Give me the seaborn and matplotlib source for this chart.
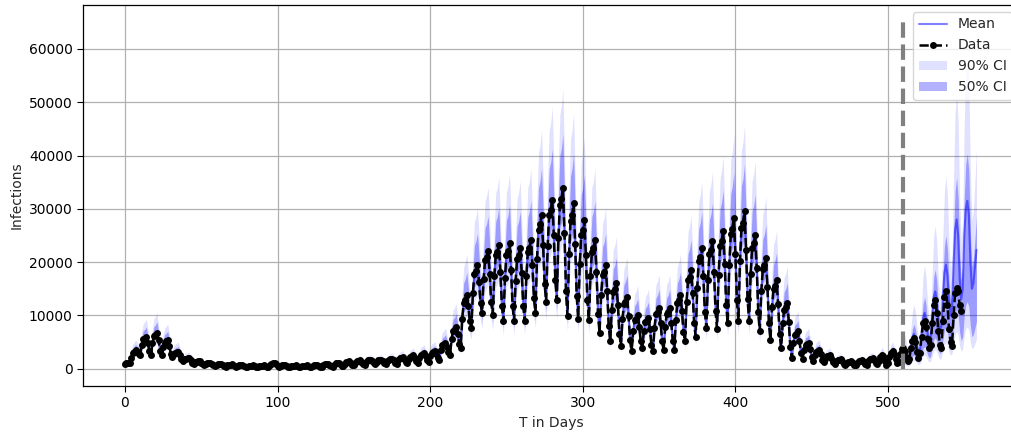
import numpy as np
import pandas as pd
import matplotlib
matplotlib.use("Agg")
import matplotlib.pyplot as plt
import seaborn as sns

# daily reported infections, one row per week (day 0 .. 548)
cases = [
    800, 1000, 1100, 1000, 2000, 2900, 3200,
    3500, 3200, 2800, 2600, 4470, 5490, 5660,
    6000, 4800, 3300, 2600, 4800, 6100, 6300,
    6750, 5300, 3400, 2600, 4100, 4900, 5100,
    5400, 4300, 2800, 2200, 2750, 3000, 3100,
    3200, 2600, 1800, 1500, 1800, 1900, 1950,
    2000, 1600, 1100, 900, 1200, 1300, 1350,
    1400, 1150, 850, 700, 900, 1000, 1050,
    1100, 900, 600, 500, 700, 850, 870,
    900, 730, 500, 400, 620, 740, 760,
    800, 640, 440, 350, 530, 640, 650,
    700, 560, 380, 300, 460, 560, 570,
    600, 480, 320, 250, 440, 550, 570,
    600, 480, 320, 250, 720, 970, 1020,
    1100, 850, 540, 400, 560, 660, 670,
    700, 560, 380, 300, 460, 560, 570,
    600, 480, 320, 250, 440, 550, 570,
    600, 480, 320, 250, 500, 600, 650,
    700, 560, 380, 300, 630, 810, 840,
    900, 710, 460, 350, 760, 990, 1030,
    1100, 870, 580, 450, 970, 1260, 1300,
    1400, 1120, 760, 600, 1150, 1450, 1500,
    1600, 1290, 880, 700, 1250, 1550, 1600,
    1700, 1390, 980, 800, 1300, 1570, 1610,
    1700, 1390, 980, 800, 1400, 1700, 1800,
    1900, 1550, 1100, 900, 1620, 2000, 2070,
    2200, 1780, 1240, 1000, 1830, 2280, 2350,
    2500, 2010, 1380, 1100, 2090, 2630, 2720,
    2900, 2340, 1620, 1300, 2420, 3000, 3100,
    3300, 2740, 2020, 1700, 3460, 4420, 4580,
    4900, 4100, 3060, 2600, 5520, 7100, 7380,
    7900, 6500, 4700, 3900, 9400, 12400, 12900,
    13900, 11700, 8900, 7700, 14200, 17800, 18400,
    19500, 16350, 12300, 10500, 16800, 20300, 20900,
    22000, 17800, 12500, 10100, 17300, 21300, 21900,
    23250, 18200, 11800, 8900, 17000, 21400, 22100,
    23600, 18500, 11800, 8900, 16500, 20600, 21300,
    22700, 17900, 11700, 8900, 17300, 21900, 22700,
    24200, 19400, 13200, 10500, 20600, 26100, 27100,
    28900, 23200, 15900, 12600, 23100, 28800, 29800,
    31700, 25100, 16700, 12900, 24450, 30750, 31800,
    33900, 25500, 14600, 9800, 21460, 27800, 28900,
    31000, 23400, 13700, 9400, 19600, 25100, 26050,
    27900, 21400, 12900, 9200, 17450, 21950, 22700,
    24200, 18100, 10200, 6750, 13760, 17600, 18200,
    19500, 14500, 8000, 5100, 11100, 14400, 14900,
    16000, 11900, 6600, 4200, 9300, 12100, 12600,
    13500, 9900, 5300, 3250, 7000, 9050, 9400,
    10100, 7900, 5100, 3900, 7000, 8700, 9000,
    9600, 7400, 4500, 3250, 7700, 10200, 10600,
    11400, 8650, 5100, 3550, 7900, 10200, 10600,
    11400, 8650, 5100, 3550, 9200, 12350, 12900,
    13900, 10800, 6900, 5100, 12500, 16600, 17250,
    18600, 14200, 8500, 6000, 15200, 20200, 21000,
    22700, 17400, 10700, 7650, 16600, 21500, 22300,
    23900, 18200, 10800, 7500, 17600, 23100, 24000,
    25800, 19700, 12000, 8500, 19400, 25200, 26300,
    28300, 21500, 12800, 8900, 20200, 26400, 27400,
    29500, 22300, 13000, 8900, 17800, 22700, 23500,
    25100, 18800, 10600, 7000, 14600, 18700, 19400,
    20800, 15400, 8500, 5400, 11600, 15000, 15600,
    16700, 12200, 6500, 3900, 8600, 11100, 11500,
    12400, 8800, 4100, 2060, 4800, 6300, 6500,
    7000, 5200, 2900, 1900, 3550, 4450, 4600,
    4900, 3700, 2200, 1500, 2600, 3200, 3300,
    3500, 2700, 1650, 1200, 1900, 2300, 2370,
    2500, 1950, 1200, 900, 1400, 1670, 1710,
    1800, 1420, 920, 700, 1090, 1300, 1330,
    1400, 1120, 760, 600, 1150, 1450, 1500,
    1600, 1290, 880, 700, 1420, 1800, 1870,
    2000, 1600, 1000, 800, 1500, 2100, 2600,
    2300, 1500, 750, 1000, 2200, 2900, 3250,
    2800, 1800, 1000, 1300, 2800, 3600, 3900,
    3400, 2200, 1370, 1800, 3800, 5200, 5800,
    5000, 3200, 2000, 3000, 6000, 8500, 8900,
    7800, 5500, 3900, 4500, 8500, 12000, 12900,
    10500, 7000, 4500, 3900, 9000, 13500, 14500,
    12000, 7500, 5000, 4300, 10000, 14200, 15150,
    14500, 12000, 10750,
]

# model mean after the cut-off (day 511 .. 558)
forecast_mean = [
    3400, 2600, 2000, 2400, 4000, 5800, 6500,
    5800, 4200, 3000, 3600, 6500, 9500, 10500,
    9200, 6500, 5000, 5800, 9800, 13500, 14500,
    12800, 9000, 7000, 8000, 13500, 18000, 19500,
    17500, 12500, 10000, 11500, 19500, 26000, 28000,
    25000, 17000, 13000, 15000, 25000, 30000, 31500,
    29000, 20000, 15000, 16000, 19000, 22300,
]

cutoff_day = 510
# interval bounds as fractions of the mean: fit period, forecast period
lo90_ratio = [0.72, 0.25]
lo50_ratio = [0.86, 0.40]
hi50_ratio = [1.30, 1.28]
hi90_ratio = [1.55, 1.85]

n_fit = cutoff_day + 1
mean = np.array(cases[:n_fit] + forecast_mean, dtype=float)
days_mean = np.arange(len(mean))
period = (days_mean > cutoff_day).astype(int)

bands = pd.DataFrame({
    "day": days_mean,
    "mean": mean,
    "lo90": mean * np.take(lo90_ratio, period),
    "lo50": mean * np.take(lo50_ratio, period),
    "hi50": mean * np.take(hi50_ratio, period),
    "hi90": mean * np.take(hi90_ratio, period),
})
obs = pd.DataFrame({"day": np.arange(len(cases)), "cases": cases})

sns.set_style("ticks")
plt.rcParams["font.family"] = ["DejaVu Sans"]

fig = plt.figure(figsize=(10.11, 4.34), dpi=100)
ax = fig.add_axes([0.0821, 0.1106, 0.926, 0.878])

ax.fill_between(bands["day"], bands["lo90"], bands["hi90"], color="blue",
                alpha=0.12, linewidth=0, label="90% CI")
ax.fill_between(bands["day"], bands["lo50"], bands["hi50"], color="blue",
                alpha=0.3, linewidth=0, label="50% CI")
sns.lineplot(data=bands, x="day", y="mean", color="blue", alpha=0.5,
             linewidth=1.5, label="Mean", ax=ax)
sns.lineplot(data=obs, x="day", y="cases", color="black", linestyle="--",
             marker="o", markersize=5, markeredgewidth=0, linewidth=1.8,
             label="Data", ax=ax)
ax.vlines(cutoff_day, 0, 65000, colors="gray", linestyles="--", linewidth=3)

ax.set_xlim(-27.5, 586)
ax.set_ylim(-3250, 68250)
ax.set_xticks([0, 100, 200, 300, 400, 500])
ax.set_yticks(range(0, 60001, 10000))
ax.grid(True, color="#b0b0b0", linewidth=0.9)
ax.set_axisbelow(True)
for s in ax.spines.values():
    s.set_color("black")
    s.set_linewidth(0.9)
ax.tick_params(direction="out", length=4, width=0.8, labelsize=10, colors="black")
ax.set_xlabel("T in Days", fontsize=10)
ax.set_ylabel("Infections", fontsize=10)

h, l = ax.get_legend_handles_labels()
order = [l.index(k) for k in ["Mean", "Data", "90% CI", "50% CI"]]
ax.legend([h[i] for i in order], [l[i] for i in order], loc="upper right",
          fontsize=10, framealpha=0.8)

fig.savefig("out.png", dpi=100)
